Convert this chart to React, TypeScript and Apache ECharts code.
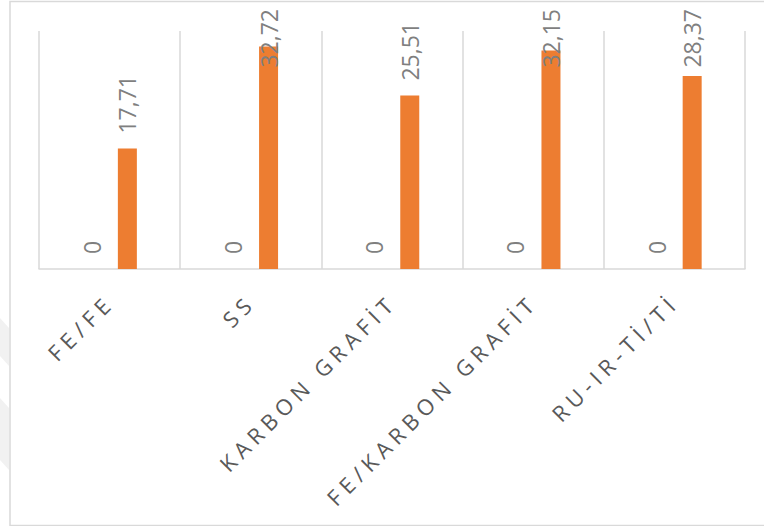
import React, { useEffect, useRef } from "react";
import * as echarts from "echarts";

// Electrode pairs on the category axis
const categories = ["FE/FE", "SS", "KARBON GRAFİT", "FE/KARBON GRAFİT", "RU-IR-Tİ/Tİ"];
// First series: all zero (only its "0" labels are visible)
const firstValues = [0, 0, 0, 0, 0];
// Second series: orange bars
const secondValues = [17.71, 32.72, 25.51, 32.15, 28.37];
// Value axis range
const valueMin = 0;
const valueMax = 35;

const AXIS_LABEL_COLOR = "#595959";
const VALUE_LABEL_COLOR = "#7f7f7f";
const GRID_COLOR = "#d9d9d9";

// Decimal comma formatting, whole numbers stay plain
const formatValue = (v: number) =>
  Number.isInteger(v) ? String(v) : v.toFixed(2).replace(".", ",");

const valueLabel = {
  show: true,
  position: "top" as const,
  rotate: 90,
  align: "left" as const,
  verticalAlign: "middle" as const,
  distance: 15,
  color: VALUE_LABEL_COLOR,
  fontSize: 23,
  fontFamily: "Open Sans",
  formatter: (p: any) => formatValue(p.value as number),
};

// Keep tall labels inside the chart's top edge. The label is turned 90°,
// so its offset is given in the label's own frame: a negative dx moves it down.
const clampTop = (p: any) => {
  const r = p.labelRect;
  const limit = 9;
  return r.y < limit ? { dx: -(limit - r.y) } : {};
};

export default function App() {
  const ref = useRef<HTMLDivElement>(null);

  useEffect(() => {
    if (!ref.current) return;
    const chart = echarts.init(ref.current, undefined, { renderer: "svg" });
    chart.setOption({
      animation: false,
      backgroundColor: "#ffffff",
      grid: { left: 39, right: 19, top: 31, bottom: 257, containLabel: false },
      xAxis: {
        type: "category",
        data: categories,
        axisLine: { show: true, lineStyle: { color: GRID_COLOR, width: 1.5 } },
        axisTick: { show: false },
        splitLine: { show: true, lineStyle: { color: GRID_COLOR, width: 1.5 } },
        axisLabel: {
          interval: 0,
          rotate: 45,
          margin: 29,
          verticalAlign: "middle",
          color: AXIS_LABEL_COLOR,
          fontSize: 22,
          fontFamily: "Open Sans",
        },
      },
      yAxis: {
        type: "value",
        min: valueMin,
        max: valueMax,
        show: false,
        splitLine: { show: false },
      },
      graphic: [
        {
          type: "polygon",
          silent: true,
          z: -10,
          shape: { points: [[0, 318], [9, 328], [9, 366], [0, 356]] },
          style: { fill: "#f1f1f1" },
        },
        {
          type: "polygon",
          silent: true,
          z: -10,
          shape: { points: [[0, 398], [9, 408], [9, 470], [0, 460]] },
          style: { fill: "#f1f1f1" },
        },
        {
          type: "rect",
          silent: true,
          z: 100,
          shape: { x: 10, y: 1.5, width: 800, height: 524 },
          style: { fill: "none", stroke: GRID_COLOR, lineWidth: 1.5 },
        },
      ],
      series: [
        {
          type: "bar",
          name: "Seri 1",
          data: firstValues,
          barWidth: 19,
          barGap: "87%",
          itemStyle: { color: "#4472C4" },
          label: valueLabel,
        },
        {
          type: "bar",
          name: "Seri 2",
          data: secondValues,
          barWidth: 19,
          barGap: "87%",
          itemStyle: { color: "#ED7D31" },
          label: valueLabel,
          labelLayout: clampTop,
        },
      ],
    });
    return () => chart.dispose();
  }, []);

  return (
    <>
      <style>{`#chart-box text[fill="${AXIS_LABEL_COLOR}"]{letter-spacing:5.5px;}`}</style>
      <div
        id="chart-box"
        ref={ref}
        style={{ position: "absolute", left: 0, top: 0, width: 764, height: 526 }}
      />
    </>
  );
}
